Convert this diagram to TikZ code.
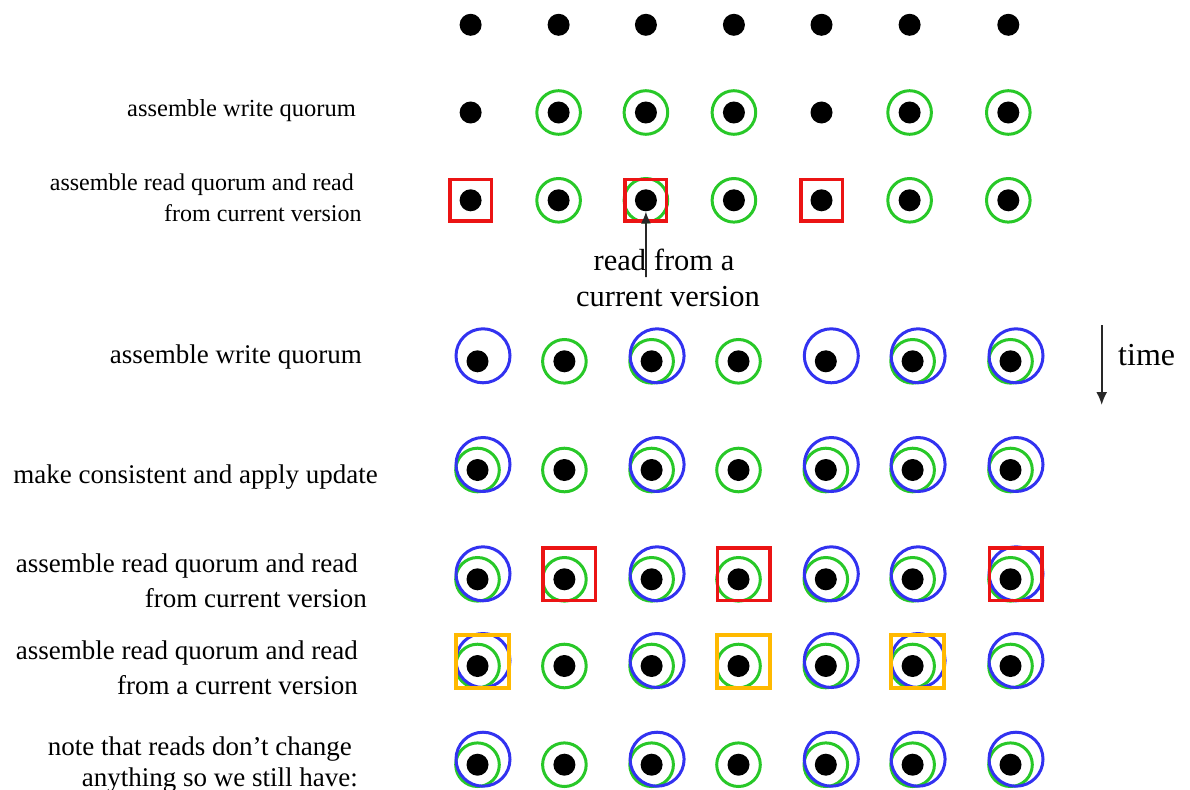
\documentclass[tikz,border=0pt]{standalone}
\usepackage{fontspec}
\setmainfont{Liberation Serif}
\usetikzlibrary{arrows.meta,calc}
\definecolor{qgreen}{RGB}{40,200,40}
\definecolor{qblue}{RGB}{50,50,240}
\definecolor{qred}{RGB}{235,20,20}
\definecolor{qorange}{RGB}{255,185,0}
\definecolor{qarrow}{RGB}{40,40,40}
\begin{document}
\begin{tikzpicture}[x=1pt,y=-1pt,
  dotn/.style={circle,fill=black,minimum size=22pt,inner sep=0pt},
  gring/.style={circle,draw=qgreen,line width=3pt,minimum size=43.6pt,inner sep=0pt},
  bring/.style={circle,draw=qblue,line width=3pt,minimum size=54pt,inner sep=0pt},
  rsmall/.style={rectangle,draw=qred,line width=3.5pt,minimum size=41.5pt,inner sep=0pt},
  rbig/.style={rectangle,draw=qred,line width=3.5pt,minimum size=52.5pt,inner sep=0pt},
  obig/.style={rectangle,draw=qorange,line width=4pt,minimum size=53pt,inner sep=0pt},
  lbl/.style={anchor=base east,inner sep=0pt,text=black},
  fa/.style={font=\fontsize{24.5}{29}\selectfont},
  fb/.style={font=\fontsize{27}{32}\selectfont},
  arr/.style={draw=qarrow,line width=1.8pt}
]
\useasboundingbox (0,0) rectangle (1190,789);
% dots, upper rows
\foreach \c/\x in {1/470.6,2/558.6,3/645.9,4/733.9,5/821.5,6/909.6,7/1008.3}{
  \foreach \r/\y in {0/24.8,1/112.5,2/200.3}{
    \node[dotn] (d\r\c) at (\x,\y) {};
  }
}
% dots, lower rows
\foreach \c/\x in {1/477.5,2/564.4,3/651.6,4/738.5,5/825.8,6/912.6,7/1010.5}{
  \foreach \r/\y in {3/361.3,4/470,5/579.3,6/666,7/764.7}{
    \node[dotn] (d\r\c) at (\x,\y) {};
  }
}
% green rings
\foreach \n in {12,13,14,16,17,22,23,24,26,27,32,33,34,36,37,
  41,42,43,44,45,46,47,51,52,53,54,55,56,57,61,62,63,64,65,66,67,71,72,73,74,75,76,77}{
  \node[gring] (g\n) at (d\n) {};
}
% blue rings
\foreach \n in {31,33,35,36,37,41,43,45,46,47,51,53,55,56,57,61,63,65,66,67,71,73,75,76,77}{
  \node[bring] (b\n) at ($(d\n)+(5.5,-5.5)$) {};
}
% squares
\foreach \n in {21,23,25}{
  \node[rsmall] (s\n) at (d\n) {};
}
\foreach \n in {52,54,57}{
  \node[rbig] (s\n) at ($(d\n)+(5,-5)$) {};
}
\foreach \n in {61,64,66}{
  \node[obig] (s\n) at ($(d\n)+(5,-5)$) {};
}
% labels
\node[lbl,fa] (l1) at (356,116.5) {assemble write quorum};
\node[lbl,font=\fontsize{24}{29}\selectfont] (l2a) at (354,190) {assemble read quorum and read};
\node[lbl,font=\fontsize{24}{29}\selectfont] (l2b) at (361.7,221) {from current version};
\node[lbl,fb] (l3) at (362,363) {assemble write quorum};
\node[lbl,fb] (l4) at (378,483) {make consistent and apply update};
\node[lbl,fb] (l5a) at (358,572) {assemble read quorum and read};
\node[lbl,fb] (l5b) at (367,607) {from current version};
\node[lbl,fb] (l6a) at (358,659) {assemble read quorum and read};
\node[lbl,fb] (l6b) at (358,694) {from a current version};
\node[lbl,fb] (l7a) at (352,755) {note that reads don’t change};
\node[lbl,fb] (l7b) at (358,786) {anything so we still have:};
% middle label and arrow
\node[anchor=base,inner sep=0pt,font=\fontsize{30.5}{36}\selectfont] (m1) at (664,270) {read from a};
\node[anchor=base,inner sep=0pt,font=\fontsize{30.5}{36}\selectfont] (m2) at (668,306.7) {current version};
\coordinate (a0) at (646,277);
\draw[arr,-{Latex[length=12pt,width=10pt]}] (a0) -- (d23.south);
% time arrow
\coordinate (t0) at (1101.7,325);
\coordinate (t1) at (1101.7,405);
\draw[arr,-{Latex[length=13pt,width=11pt]}] (t0) -- (t1);
\node[anchor=base west,inner sep=0pt,font=\fontsize{32}{38}\selectfont] (tm) at (1118,365) {time};
\end{tikzpicture}
\end{document}
